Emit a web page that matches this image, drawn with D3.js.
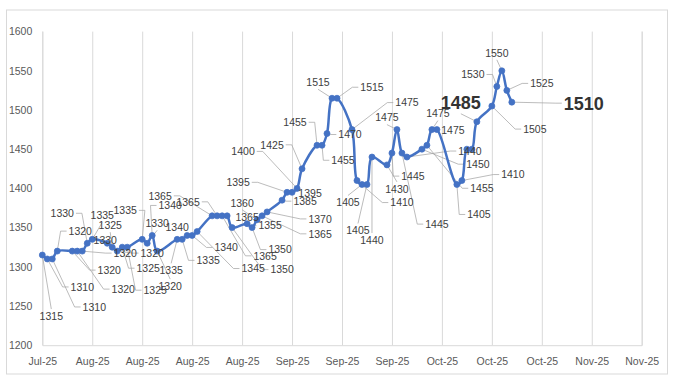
<!DOCTYPE html>
<html>
<head>
<meta charset="utf-8">
<script src="https://cdn.jsdelivr.net/npm/d3@7"></script>
<style>
  body { margin: 0; background: #fff; }
  svg text { font-family: "Liberation Sans", Arial, sans-serif; }
</style>
</head>
<body>
<div id="chart"></div>
<script>
// trading days shown in the chart
const dates = [
  "2025-07-22","2025-07-23","2025-07-24","2025-07-25",
  "2025-07-28","2025-07-29","2025-07-30","2025-07-31","2025-08-01",
  "2025-08-04","2025-08-05","2025-08-06","2025-08-07","2025-08-08",
  "2025-08-11","2025-08-12","2025-08-13","2025-08-14",
  "2025-08-18","2025-08-19","2025-08-20","2025-08-21","2025-08-22",
  "2025-08-25","2025-08-26","2025-08-27","2025-08-28","2025-08-29",
  "2025-09-01","2025-09-02","2025-09-03","2025-09-04","2025-09-05",
  "2025-09-08","2025-09-09","2025-09-10","2025-09-11","2025-09-12",
  "2025-09-15","2025-09-16","2025-09-17","2025-09-18","2025-09-19",
  "2025-09-22","2025-09-23","2025-09-24","2025-09-25","2025-09-26",
  "2025-09-29","2025-09-30","2025-10-01","2025-10-02","2025-10-03",
  "2025-10-06","2025-10-07","2025-10-08","2025-10-09",
  "2025-10-13","2025-10-14","2025-10-15","2025-10-16","2025-10-17",
  "2025-10-20","2025-10-21","2025-10-22","2025-10-23","2025-10-24"
];

const prices = [
  1315,1310,1310,1320,
  1320,1320,1320,1330,1335,
  1330,1325,1320,1325,1325,
  1335,1330,1340,1320,
  1335,1335,1340,1340,1345,
  1365,1365,1365,1365,1350,
  1355,1350,1360,1365,1370,
  1385,1395,1395,1400,1425,
  1455,1455,1470,1515,1515,
  1475,1410,1405,1405,1440,
  1430,1445,1475,1445,1440,
  1450,1455,1475,1475,
  1405,1410,1450,1450,1485,
  1505,1530,1550,1525,1510
];

// x axis ticks every 10 days, y axis ticks every 50
const xTickDates = ["2025-07-22","2025-08-01","2025-08-11","2025-08-21","2025-08-31","2025-09-10",
  "2025-09-20","2025-09-30","2025-10-10","2025-10-20","2025-10-30","2025-11-09","2025-11-19"];
const yTicks = [1200,1250,1300,1350,1400,1450,1500,1550,1600];

// highlighted labels, and labels hidden under others (index in the series)
const boldIdx = [61, 66];
const hiddenIdx = [59, 60];

// where each data label was dragged to, relative to its point (px)
const labelNudge = [
  [9,61],[35,28],[42,48],[23,-20],
  [37,19],[46,38],[43,2],[-25,-30],[10,-24],
  [-2,-3],[-2,-22],[35,2],[26,21],[28,43],
  [-17,-29],[10,-20],[18,-30],[13,35],
  [-6,31],[26,21],[-10,-8],[34,12],[56,37],
  [-52,-20],[-29,-14],[43,40],[20,1],[50,42],
  [23,2],[28,22],[-15,-17],[58,18],[53,7],
  [23,1],[-49,-10],[18,1],[-54,-37],[-30,-24],
  [-22,-23],[21,15],[23,1],[-14,-16],[35,-11],
  [55,-27],[45,22],[-14,18],[-9,46],[0,83],
  [10,24],[21,23],[-10,-12],[35,71],[63,-6],
  [56,15],[55,43],[6,-16],[16,1],
  [22,30],[51,-6],[11,15],[6,15],[-16,-19],
  [43,23],[-24,-12],[-5,-18],[35,-7],[72,1]
];

const W = 676, H = 383;
const plotL = 42.3, plotR = 641.7, plotT = 31.6, plotB = 345.2;
const blue = '#4472C4';

const parse = d3.utcParse('%Y-%m-%d');
const data = dates.map((d, i) => ({ date: parse(d), v: prices[i], i }));

const svg = d3.select('#chart')
  .append('svg')
  .attr('width', W)
  .attr('height', H);

svg.append('rect')
  .attr('x', 6.5).attr('y', 10)
  .attr('width', 661).attr('height', 364)
  .attr('fill', '#fff')
  .attr('stroke', '#d9d9d9')
  .attr('stroke-width', 1);

const xTicks = xTickDates.map(parse);
const x = d3.scaleUtc()
  .domain([xTicks[0], xTicks[xTicks.length - 1]])
  .range([plotL, plotR]);
const y = d3.scaleLinear()
  .domain([1200, 1600])
  .range([plotB, plotT]);

// x axis + vertical gridlines
const xAxis = d3.axisBottom(x)
  .tickValues(xTicks)
  .tickFormat(d3.utcFormat('%b-%y'))
  .tickSize(-(plotB - plotT))
  .tickPadding(12);

const gx = svg.append('g')
  .attr('transform', `translate(0,${plotB})`)
  .call(xAxis);
gx.select('.domain').attr('stroke', '#d9d9d9');
gx.selectAll('.tick line').attr('stroke', '#d9d9d9');
gx.selectAll('.tick text')
  .attr('fill', '#595959')
  .style('font-size', '10.5px');

// y axis labels only
const gy = svg.append('g')
  .attr('transform', `translate(${plotL},0)`)
  .call(d3.axisLeft(y).tickValues(yTicks).tickFormat(d3.format('d')).tickSize(0).tickPadding(10));
gy.select('.domain').remove();
gy.selectAll('.tick text')
  .attr('fill', '#595959')
  .style('font-size', '10.5px');

const leaderG = svg.append('g');
const lineG = svg.append('g');
const labelG = svg.append('g');

const shown = data.filter(d => !hiddenIdx.includes(d.i));

// labels first so we can measure them for the leader lines
const labels = labelG.selectAll('text')
  .data(shown)
  .enter()
  .append('text')
  .attr('text-anchor', 'middle')
  .attr('x', d => x(d.date) + labelNudge[d.i][0])
  .attr('y', d => {
    const big = boldIdx.includes(d.i);
    return y(d.v) + labelNudge[d.i][1] + (big ? 6.5 : 3.8);
  })
  .attr('fill', d => boldIdx.includes(d.i) ? '#333' : '#404040')
  .style('font-size', d => boldIdx.includes(d.i) ? '18px' : '10.5px')
  .style('font-weight', d => boldIdx.includes(d.i) ? 'bold' : 'normal')
  .text(d => d.v);

labels.each(function(d) {
  const big = boldIdx.includes(d.i);
  const w = this.getComputedTextLength();
  const hh = big ? 11 : 7;
  const cx = x(d.date) + labelNudge[d.i][0];
  const cy = y(d.v) + labelNudge[d.i][1];
  const b = { l: cx - w / 2, r: cx + w / 2, t: cy - hh, b: cy + hh };
  const px = x(d.date), py = y(d.v);
  if (px >= b.l - 2 && px <= b.r + 2 && py >= b.t - 2 && py <= b.b + 2) return;
  let ax, ay, sx, sy;
  if (px < b.l - 4) { ax = b.l - 2; ay = cy; sx = ax - 6; sy = ay; }
  else if (px > b.r + 4) { ax = b.r + 2; ay = cy; sx = ax + 6; sy = ay; }
  else { ax = cx; ay = py < b.t ? b.t : b.b; sx = ax; sy = ay; }
  if (Math.hypot(px - ax, py - ay) < 8) return;
  leaderG.append('path')
    .attr('d', `M${px},${py}L${sx},${sy}L${ax},${ay}`)
    .attr('fill', 'none')
    .attr('stroke', '#a6a6a6')
    .attr('stroke-width', 0.75);
});

const line = d3.line()
  .x(d => x(d.date))
  .y(d => y(d.v))
  .curve(d3.curveCatmullRom.alpha(0.5));

lineG.append('path')
  .datum(data)
  .attr('d', line)
  .attr('fill', 'none')
  .attr('stroke', blue)
  .attr('stroke-width', 2.5)
  .attr('stroke-linejoin', 'round');

lineG.selectAll('circle')
  .data(data)
  .enter()
  .append('circle')
  .attr('cx', d => x(d.date))
  .attr('cy', d => y(d.v))
  .attr('r', 3)
  .attr('fill', blue)
  .attr('stroke', blue)
  .attr('stroke-width', 0.75);
</script>
</body>
</html>
